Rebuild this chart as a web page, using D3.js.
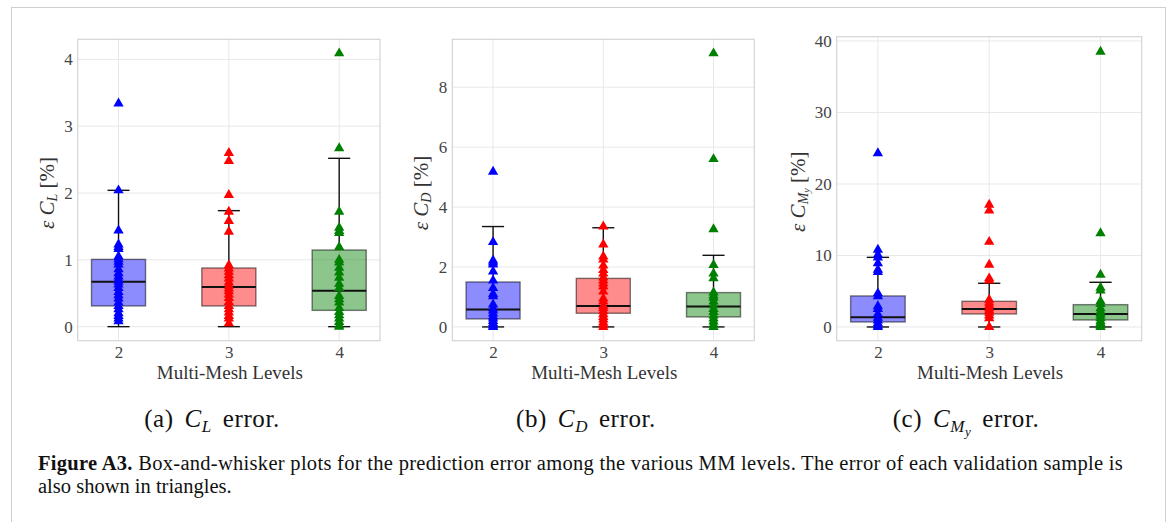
<!DOCTYPE html>
<html><head><meta charset="utf-8">
<script src="https://cdn.jsdelivr.net/npm/d3@7"></script>
<style>body{margin:0;background:#fff} svg{display:block}</style>
</head><body><svg id="c" width="1173" height="522"></svg>
<script>
// ---------- data ----------
const levels = [2, 3, 4];
const levelColors = ["#0000ff", "#ff0000", "#008000"];

// C_L error [%]
const clLevel2 = [3.34, 2.04, 1.44, 1.23, 1.19, 1.16, 1.05, 1.01, 0.97, 0.93, 0.86, 0.80, 0.75, 0.71, 0.67, 0.63, 0.58, 0.52, 0.47, 0.42, 0.36, 0.31, 0.26, 0.20, 0.16, 0.12, 0.08];
const clLevel3 = [2.60, 2.48, 1.97, 1.72, 1.58, 1.42, 0.92, 0.87, 0.82, 0.77, 0.72, 0.66, 0.61, 0.57, 0.53, 0.48, 0.43, 0.37, 0.31, 0.26, 0.21, 0.16, 0.12, 0.05];
const clLevel4 = [4.09, 2.67, 1.72, 1.48, 1.43, 1.40, 1.19, 1.00, 0.96, 0.88, 0.81, 0.73, 0.64, 0.58, 0.46, 0.41, 0.36, 0.28, 0.22, 0.17, 0.12, 0.07, 0.02, 0.0];
const clQ1 = [0.31, 0.31, 0.244];
const clMedian = [0.673, 0.593, 0.539];
const clQ3 = [1.007, 0.878, 1.147];
const clLow = [0, 0, 0];
const clHigh = [2.04, 1.736, 2.519];
const clTicks = [0, 1, 2, 3, 4];

// C_D error [%]
const cdLevel2 = [5.18, 2.83, 2.22, 2.15, 2.08, 1.85, 1.55, 1.30, 1.10, 1.02, 0.75, 0.62, 0.55, 0.45, 0.35, 0.28, 0.20, 0.12, 0.05, 0.0];
const cdLevel3 = [3.35, 2.75, 2.35, 2.25, 2.05, 1.90, 1.78, 1.65, 1.55, 1.45, 1.35, 1.18, 0.95, 0.85, 0.70, 0.62, 0.52, 0.42, 0.33, 0.25, 0.15, 0.08, 0.0];
const cdLevel4 = [9.13, 5.60, 3.26, 2.07, 1.78, 1.62, 1.15, 1.05, 0.97, 0.85, 0.72, 0.60, 0.50, 0.38, 0.28, 0.18, 0.08, 0.0];
const cdQ1 = [0.267, 0.456, 0.334];
const cdMedian = [0.578, 0.70, 0.68];
const cdQ3 = [1.50, 1.62, 1.146];
const cdLow = [0, 0, 0];
const cdHigh = [3.35, 3.31, 2.39];
const cdTicks = [0, 2, 4, 6, 8];

// C_My error [%]
const cmLevel2 = [24.3, 10.8, 10.1, 9.7, 8.9, 8.0, 7.7, 4.7, 4.3, 2.9, 2.5, 1.8, 1.3, 0.9, 0.5, 0.2, 0.0];
const cmLevel3 = [17.1, 16.3, 11.9, 8.7, 6.8, 6.5, 3.8, 3.4, 3.0, 2.6, 2.3, 2.0, 1.6, 1.2, 0.0];
const cmLevel4 = [38.5, 13.1, 7.3, 5.5, 5.1, 3.6, 3.2, 2.6, 2.2, 1.9, 1.6, 1.2, 0.8, 0.5, 0.2, 0.0];
const cmQ1 = [0.70, 1.82, 0.98];
const cmMedian = [1.35, 2.52, 1.82];
const cmQ3 = [4.34, 3.59, 3.12];
const cmLow = [0, 0, 0];
const cmHigh = [9.74, 6.11, 6.25];
const cmTicks = [0, 10, 20, 30, 40];

const xTitle = "Multi-Mesh Levels";
const figureCaption1 = ["Figure A3.", " Box-and-whisker plots for the prediction error among the various MM levels. The error of each validation sample is"];
const figureCaption2 = "also shown in triangles.";

// ---------- layout ----------
const panels = [
  { pts: [clLevel2, clLevel3, clLevel4], q1: clQ1, med: clMedian, q3: clQ3, lo: clLow, hi: clHigh, ticks: clTicks,
    x0: 77.7, x1: 380, y0: 39.3, y1: 340.7, ydom: [-0.21, 4.30], sub: ["L"], letter: "(a)", capX: 212, ytOff: 24 },
  { pts: [cdLevel2, cdLevel3, cdLevel4], q1: cdQ1, med: cdMedian, q3: cdQ3, lo: cdLow, hi: cdHigh, ticks: cdTicks,
    x0: 452.3, x1: 754.3, y0: 39.3, y1: 340.7, ydom: [-0.46, 9.60], sub: ["D"], letter: "(b)", capX: 586, ytOff: 24 },
  { pts: [cmLevel2, cmLevel3, cmLevel4], q1: cmQ1, med: cmMedian, q3: cmQ3, lo: cmLow, hi: cmHigh, ticks: cmTicks,
    x0: 836.7, x1: 1141.7, y0: 36.7, y1: 340.7, ydom: [-1.92, 40.6], sub: ["M", "y"], letter: "(c)", capX: 966, ytOff: 32 }
];

const svg = d3.select("#c");
const serif = "'Liberation Serif', 'DejaVu Serif', serif";

// outer frame
svg.append("rect").attr("x", 11.5).attr("y", 7.5).attr("width", 1154).attr("height", 530)
  .attr("fill", "none").attr("stroke", "#cfcfcf").attr("stroke-width", 1);

const tri = d3.symbol().type(d3.symbolTriangle).size(46);

panels.forEach(p => {
  const x = d3.scaleLinear().domain([1.63, 4.37]).range([p.x0, p.x1]);
  const y = d3.scaleLinear().domain(p.ydom).range([p.y1, p.y0]);
  const g = svg.append("g");

  // grid
  g.selectAll(".hg").data(p.ticks).join("line")
    .attr("x1", p.x0).attr("x2", p.x1).attr("y1", d => y(d)).attr("y2", d => y(d))
    .attr("stroke", "#e8e8e8").attr("stroke-width", 1);
  g.selectAll(".vg").data(levels).join("line")
    .attr("x1", d => x(d)).attr("x2", d => x(d)).attr("y1", p.y0).attr("y2", p.y1)
    .attr("stroke", "#e8e8e8").attr("stroke-width", 1);

  // axes (labels only)
  const yAxis = g.append("g").attr("transform", `translate(${p.x0},0)`)
    .call(d3.axisLeft(y).tickValues(p.ticks).tickSize(0).tickPadding(5).tickFormat(d3.format("d")))
    .attr("font-family", serif).attr("font-size", 17);
  yAxis.select(".domain").remove();
  yAxis.selectAll("text").style("font-family", serif).style("font-size", "17px").attr("fill", "#444");
  const xAxis = g.append("g").attr("transform", `translate(0,${p.y1})`)
    .call(d3.axisBottom(x).tickValues(levels).tickSize(0).tickPadding(5).tickFormat(d3.format("d")))
    .attr("font-family", serif).attr("font-size", 17);
  xAxis.select(".domain").remove();
  xAxis.selectAll("text").style("font-family", serif).style("font-size", "17px").attr("fill", "#444");

  // frame
  g.append("rect").attr("x", p.x0).attr("y", p.y0).attr("width", p.x1 - p.x0).attr("height", p.y1 - p.y0)
    .attr("fill", "none").attr("stroke", "#d4d4d4").attr("stroke-width", 1.2);

  const bw = 0.49, cw = 0.2;
  levels.forEach((lv, i) => {
    const col = levelColors[i];
    // whiskers
    g.append("line").attr("x1", x(lv)).attr("x2", x(lv)).attr("y1", y(p.q3[i])).attr("y2", y(p.hi[i]))
      .attr("stroke", "#111").attr("stroke-width", 1.4);
    g.append("line").attr("x1", x(lv)).attr("x2", x(lv)).attr("y1", y(p.q1[i])).attr("y2", y(p.lo[i]))
      .attr("stroke", "#111").attr("stroke-width", 1.4);
    [p.hi[i], p.lo[i]].forEach(v => {
      g.append("line").attr("x1", x(lv - cw / 2)).attr("x2", x(lv + cw / 2)).attr("y1", y(v)).attr("y2", y(v))
        .attr("stroke", "#111").attr("stroke-width", 1.4);
    });
    // box
    g.append("rect").attr("x", x(lv - bw / 2)).attr("width", x(lv + bw / 2) - x(lv - bw / 2))
      .attr("y", y(p.q3[i])).attr("height", y(p.q1[i]) - y(p.q3[i]))
      .attr("fill", col).attr("fill-opacity", 0.45)
      .attr("stroke", "#000").attr("stroke-opacity", 0.5).attr("stroke-width", 1.4);
    g.append("line").attr("x1", x(lv - bw / 2)).attr("x2", x(lv + bw / 2)).attr("y1", y(p.med[i])).attr("y2", y(p.med[i]))
      .attr("stroke", "#111").attr("stroke-width", 2);
    // points
    g.selectAll(null).data(p.pts[i]).join("path")
      .attr("d", tri).attr("transform", d => `translate(${x(lv)},${y(d)})`)
      .attr("fill", col);
  });

  // x title
  g.append("text").attr("x", (p.x0 + p.x1) / 2 + 1).attr("y", 379).attr("text-anchor", "middle")
    .attr("font-family", serif).attr("font-size", 19).attr("fill", "#333").text(xTitle);

  // y title
  const yt = g.append("text").attr("transform", `translate(${p.x0 - p.ytOff},${(p.y0 + p.y1) / 2 + 3}) rotate(-90)`)
    .attr("text-anchor", "middle").attr("font-family", serif).attr("font-size", 21).attr("fill", "#333");
  yt.append("tspan").attr("font-style", "italic").text("ε C");
  yt.append("tspan").attr("font-style", "italic").attr("font-size", 14).attr("dy", 3).text(p.sub[0]);
  if (p.sub[1]) yt.append("tspan").attr("font-style", "italic").attr("font-size", 10).attr("dy", 2).text(p.sub[1]);
  yt.append("tspan").attr("dy", p.sub[1] ? -5 : -3).text(" [%]");

  // sub-caption
  const ct = svg.append("text").attr("x", p.capX).attr("y", 427).attr("text-anchor", "middle")
    .attr("font-family", serif).attr("font-size", 25).attr("letter-spacing", 0.6).attr("word-spacing", 4).attr("fill", "#111");
  ct.append("tspan").text(p.letter + " ");
  ct.append("tspan").attr("font-style", "italic").text("C");
  ct.append("tspan").attr("font-style", "italic").attr("font-size", 17).attr("dy", 5).text(p.sub[0]);
  if (p.sub[1]) ct.append("tspan").attr("font-style", "italic").attr("font-size", 13).attr("dy", 4).text(p.sub[1]);
  ct.append("tspan").attr("dy", p.sub[1] ? -9 : -5).text(" error.");
});

// figure caption
const capSize = 20.5;
const fc = svg.append("text").attr("x", 38).attr("y", 470).attr("font-family", serif).attr("font-size", capSize).attr("fill", "#111");
fc.append("tspan").attr("font-weight", "bold").text(figureCaption1[0]);
fc.append("tspan").text(figureCaption1[1]);
const natural = fc.node().getComputedTextLength();
const nChars = (figureCaption1[0] + figureCaption1[1]).length;
const ls = (1085 - natural) / nChars;
fc.attr("letter-spacing", ls);
svg.append("text").attr("x", 38).attr("y", 493).attr("font-family", serif).attr("font-size", capSize)
  .attr("fill", "#111").text(figureCaption2);
</script></body></html>
